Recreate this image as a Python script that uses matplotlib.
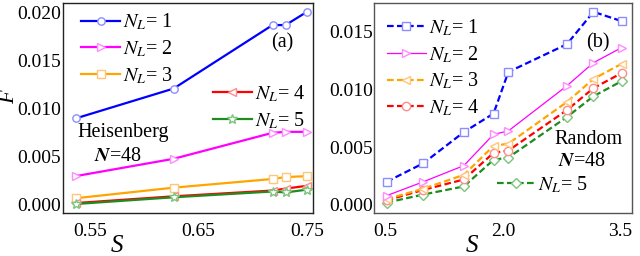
import matplotlib

matplotlib.use("Agg")
import matplotlib.pyplot as plt

# panel (a): Heisenberg, N=48
s_heis = [0.537, 0.627, 0.718, 0.730, 0.750]
f_heis = {
    1: [0.0090, 0.0121, 0.0187, 0.0187, 0.0201],
    2: [0.0030, 0.0048, 0.0075, 0.0076, 0.0076],
    3: [0.0007, 0.0018, 0.0027, 0.0029, 0.0030],
    4: [0.0002, 0.0009, 0.0015, 0.0017, 0.0020],
    5: [0.0001, 0.0008, 0.0014, 0.0013, 0.0016],
}
heis_xticks = [0.55, 0.65, 0.75]
heis_yticks = [0.000, 0.005, 0.010, 0.015, 0.020]

# panel (b): Random, N=48
s_rand = [0.51, 0.98, 1.50, 1.88, 2.07, 2.82, 3.16, 3.52]
f_rand = {
    1: [0.0020, 0.0036, 0.0063, 0.0079, 0.0115, 0.0139, 0.0167, 0.0159],
    2: [0.0008, 0.0020, 0.0034, 0.0061, 0.0064, 0.0103, 0.0123, 0.0136],
    3: [0.0005, 0.0014, 0.0026, 0.0051, 0.0053, 0.0089, 0.0109, 0.0122],
    4: [0.0004, 0.0013, 0.0022, 0.0045, 0.0047, 0.0082, 0.0101, 0.0114],
    5: [0.0002, 0.0009, 0.0016, 0.0039, 0.0041, 0.0076, 0.0094, 0.0107],
}
rand_xticks = [0.5, 2.0, 3.5]
rand_yticks = [0.000, 0.005, 0.010, 0.015]

LINE = {1: "#0000ff", 2: "#ff00ff", 3: "#ffa500", 4: "#ff0000", 5: "#1e8c1e"}
EDGE = {1: "#8c8cff", 2: "#ff8cff", 3: "#ffc67a", 4: "#ff8c8c", 5: "#7cc47c"}

plt.rcParams["font.family"] = ["Liberation Serif", "DejaVu Serif"]
plt.rcParams["mathtext.fontset"] = "stix"
FS = 14
FT = 14.5

fig = plt.figure(figsize=(6.4, 2.56), dpi=100)
ax1 = fig.add_axes([0.098, 0.167, 0.391, 0.823])
ax2 = fig.add_axes([0.585, 0.167, 0.403, 0.822])


def label(n):
    return r"$N_L$= %d" % n


# ---- panel (a)
heis_style = {1: ("o", 5.3), 2: (">", 6), 3: ("s", 5.3), 4: ("<", 6), 5: ("*", 7)}
h_a = {}
for n in [3, 2, 1, 4, 5]:
    m, ms = heis_style[n]
    (h_a[n],) = ax1.plot(s_heis, f_heis[n], color=LINE[n], lw=1.6, marker=m, ms=ms,
                         mfc="white", mec=EDGE[n], mew=1.0, label=label(n))
ax1.set_xlim(0.525, 0.7552)
ax1.set_ylim(-0.00086, 0.02104)
ax1.set_xticks(heis_xticks)
ax1.set_xticklabels(["%.2f" % v for v in heis_xticks])
ax1.set_yticks(heis_yticks)
ax1.set_yticklabels(["%.3f" % v for v in heis_yticks])
ax1.set_xlabel("S", style="italic", fontsize=18)
ax1.xaxis.set_label_coords(0.217, -0.105)
ax1.set_ylabel("F", style="italic", fontsize=16, labelpad=0)
ax1.yaxis.set_label_coords(-0.175, 0.55)
leg_kw = dict(frameon=False, fontsize=FT, numpoints=1, handlelength=1.9,
              handletextpad=0.15, borderaxespad=0, borderpad=0, labelspacing=0.3)
l1 = ax1.legend([h_a[1], h_a[2], h_a[3]], [label(1), label(2), label(3)],
                loc="upper left", bbox_to_anchor=(0.075, 0.955), **leg_kw)
ax1.add_artist(l1)
ax1.legend([h_a[4], h_a[5]], [label(4), label(5)],
           loc="upper left", bbox_to_anchor=(0.602, 0.615), **leg_kw)
ax1.text(0.876, 0.81, "(a)", transform=ax1.transAxes, ha="center", va="center", fontsize=FT)
ax1.text(0.241, 0.385, "Heisenberg", transform=ax1.transAxes, ha="center", va="center", fontsize=FT)
ax1.text(0.22, 0.27, r"$\boldsymbol{N}$=48", transform=ax1.transAxes, ha="center", va="center", fontsize=FT)

# ---- panel (b)
rand_style = {1: ("s", 6, (0, (3, 1.5)), 1.6), 2: (">", 6, "-", 0.9),
              3: ("<", 6, (0, (3, 1.5)), 1.6), 4: ("o", 6, (0, (3, 1.5)), 1.6),
              5: ("D", 5.5, (0, (3, 1.5)), 1.6)}
h_b = {}
for n in [5, 4, 3, 2, 1]:
    m, ms, ls, lw = rand_style[n]
    (h_b[n],) = ax2.plot(s_rand, f_rand[n], color=LINE[n], lw=lw, ls=ls, marker=m, ms=ms,
                         mfc="white", mec=EDGE[n], mew=1.0, label=label(n))
ax2.set_xlim(0.354, 3.658)
ax2.set_ylim(-0.00072, 0.01748)
ax2.set_xticks(rand_xticks)
ax2.set_xticklabels(["%.1f" % v for v in rand_xticks])
ax2.set_yticks(rand_yticks)
ax2.set_yticklabels(["%.3f" % v for v in rand_yticks])
ax2.set_xlabel("S", style="italic", fontsize=18)
ax2.xaxis.set_label_coords(0.379, -0.105)
l2 = ax2.legend([h_b[1], h_b[2], h_b[3], h_b[4]], [label(1), label(2), label(3), label(4)],
                loc="upper left", bbox_to_anchor=(0.05, 0.93), **leg_kw)
ax2.add_artist(l2)
ax2.legend([h_b[5]], [label(5)], loc="upper left", bbox_to_anchor=(0.475, 0.185), **leg_kw)
ax2.text(0.868, 0.81, "(b)", transform=ax2.transAxes, ha="center", va="center", fontsize=FT)
ax2.text(0.829, 0.35, "Random", transform=ax2.transAxes, ha="center", va="center", fontsize=FT)
ax2.text(0.806, 0.245, r"$\boldsymbol{N}$=48", transform=ax2.transAxes, ha="center", va="center", fontsize=FT)

for ax, sc in [(ax1, "#222222"), (ax2, "#555555")]:
    ax.tick_params(length=0, labelsize=FS, pad=1)
    ax.tick_params(axis="x", pad=7)
    for sp in ax.spines.values():
        sp.set_color(sc)
        sp.set_linewidth(1.0)

fig.savefig("out.png", dpi=100)
